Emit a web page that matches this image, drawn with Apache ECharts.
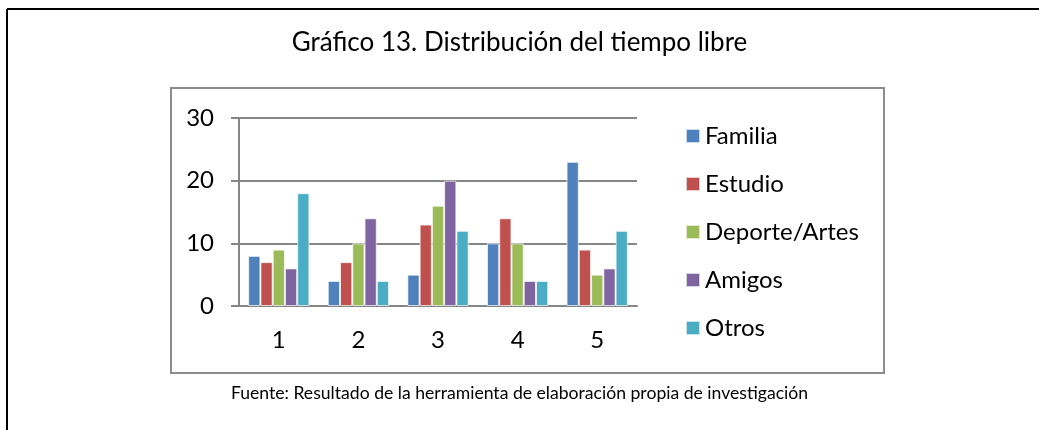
<!DOCTYPE html>
<html>
<head>
<meta charset="utf-8">
<script src="https://cdn.jsdelivr.net/npm/echarts@6/dist/echarts.min.js"></script>
<style>
  html, body { margin: 0; padding: 0; background: #fff; }
  #chart { width: 1039px; height: 430px; }
</style>
</head>
<body>
<div id="chart"></div>
<script>
const categories = ['1', '2', '3', '4', '5'];
const seriesNames = ['Familia', 'Estudio', 'Deporte/Artes', 'Amigos', 'Otros'];
const familia = [8, 4, 5, 10, 23];
const estudio = [7, 7, 13, 14, 9];
const deporte = [9, 10, 16, 10, 5];
const amigos = [6, 14, 20, 4, 6];
const otros = [18, 4, 12, 4, 12];
const yTicks = [0, 10, 20, 30];
const colors = ['#4F81BD', '#C0504D', '#9BBB59', '#8064A2', '#4BACC6'];

const FONT = 'Lato';
const values = [familia, estudio, deporte, amigos, otros];

const chart = echarts.init(document.getElementById('chart'));

chart.setOption({
  animation: false,
  color: colors,
  textStyle: { fontFamily: FONT, color: '#000' },
  title: {
    text: 'Gráfico 13. Distribución del tiempo libre',
    left: 'center',
    top: 25,
    textStyle: { fontFamily: FONT, fontSize: 26, fontWeight: 'normal', color: '#000' },
  },
  graphic: [
    /* marco exterior */
    { type: 'line', shape: { x1: 7, y1: 9, x2: 1039, y2: 9 }, style: { stroke: '#000', lineWidth: 2 } },
    { type: 'line', shape: { x1: 7, y1: 9, x2: 7, y2: 430 }, style: { stroke: '#000', lineWidth: 2 } },
    /* marco del área del gráfico */
    {
      type: 'rect',
      shape: { x: 171, y: 88, width: 713, height: 285 },
      style: { fill: 'none', stroke: '#8c8c8c', lineWidth: 2 },
      z: -1,
    },
    {
      type: 'text',
      left: 'center',
      top: 384,
      style: {
        text: 'Fuente: Resultado de la herramienta de elaboración propia de investigación',
        font: '17.6px ' + FONT,
        fill: '#000',
      },
    },
  ],
  legend: {
    orient: 'vertical',
    left: 680,
    top: 119,
    icon: 'rect',
    itemWidth: 14,
    itemHeight: 14,
    itemGap: 24,
    textStyle: { fontFamily: FONT, fontSize: 24, color: '#000', lineHeight: 24 },
    data: seriesNames,
  },
  grid: { left: 239, right: 402, top: 118, bottom: 124 },
  xAxis: {
    type: 'category',
    data: categories,
    axisLine: { lineStyle: { color: '#868686', width: 2 } },
    axisTick: { length: 8, lineStyle: { color: '#868686', width: 2 } },
    axisLabel: { fontFamily: FONT, fontSize: 24, color: '#000', margin: 22 },
  },
  yAxis: {
    type: 'value',
    min: yTicks[0],
    max: yTicks[yTicks.length - 1],
    interval: 10,
    axisLine: { show: true, lineStyle: { color: '#868686', width: 2 } },
    axisTick: { show: true, length: 8, lineStyle: { color: '#868686', width: 2 } },
    axisLabel: { fontFamily: FONT, fontSize: 24, color: '#000', margin: 25 },
    splitLine: { lineStyle: { color: '#868686', width: 2 } },
  },
  series: seriesNames.map((name, i) => ({
    name,
    type: 'bar',
    data: values[i],
    barGap: '0%',
    barCategoryGap: '23%',
    itemStyle: { borderColor: 'rgba(255,255,255,0.7)', borderWidth: 1 },
  })),
});
</script>
</body>
</html>
